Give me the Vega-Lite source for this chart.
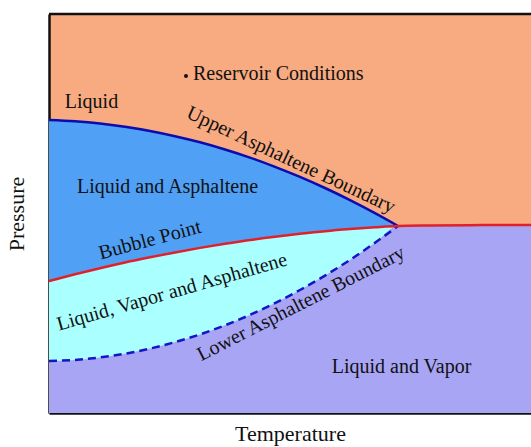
{
  "$schema": "https://vega.github.io/schema/vega-lite/v6.json",
  "autosize": {"type": "none"},
  "width": 482,
  "height": 399,
  "padding": {"left": 49, "top": 14, "right": 0, "bottom": 34},
  "background": "white",
  "config": {
    "view": {"stroke": null, "fill": "#F8AA80"},
    "font": "Liberation Serif"
  },
  "datasets": {
    "curves": [
      {"T": 0, "up": 73.43, "bub": 33.08, "low": 13.03},
      {"T": 5.39, "up": 73.11, "bub": 34.76, "low": 13.31},
      {"T": 10.58, "up": 72.56, "bub": 36.29, "low": 13.93},
      {"T": 15.77, "up": 71.73, "bub": 37.72, "low": 14.86},
      {"T": 20.95, "up": 70.68, "bub": 39.02, "low": 16.14},
      {"T": 26.14, "up": 69.37, "bub": 40.25, "low": 17.77},
      {"T": 31.33, "up": 67.84, "bub": 41.38, "low": 19.70},
      {"T": 36.51, "up": 66.04, "bub": 42.41, "low": 21.98},
      {"T": 41.70, "up": 64.01, "bub": 43.36, "low": 24.59},
      {"T": 46.89, "up": 61.70, "bub": 44.19, "low": 27.54},
      {"T": 52.07, "up": 59.17, "bub": 44.91, "low": 30.83},
      {"T": 57.26, "up": 56.39, "bub": 45.56, "low": 34.44},
      {"T": 62.45, "up": 53.36, "bub": 46.09, "low": 38.37},
      {"T": 67.63, "up": 50.10, "bub": 46.54, "low": 42.66},
      {"T": 72.41, "up": 46.87, "bub": 46.87, "low": 46.87},
      {"T": 79.05, "up": 46.99, "bub": 46.99, "low": 46.99},
      {"T": 87.34, "up": 47.07, "bub": 47.07, "low": 47.07},
      {"T": 93.57, "up": 47.12, "bub": 47.12, "low": 47.12},
      {"T": 100, "up": 47.12, "bub": 47.12, "low": 47.12}
    ],
    "flat": [
      {"T": 8.82, "P": 76.44, "label": "Liquid"},
      {"T": 24.59, "P": 55.14, "label": "Liquid and Asphaltene"},
      {"T": 73.13, "P": 10.03, "label": "Liquid and Vapor"}
    ],
    "reservoir": [
      {"T": 28.42, "P": 84.46, "Tl": 29.88, "Pl": 83.46, "label": "Reservoir Conditions"}
    ],
    "upperLab": [{"T": 50.21, "P": 63.41, "label": "Upper Asphaltene Boundary"}],
    "bubbleLab": [{"T": 20.95, "P": 43.36, "label": "Bubble Point"}],
    "lvaLab": [{"T": 25.5, "P": 30.3, "label": "Liquid, Vapor and Asphaltene"}],
    "lowerLab": [{"T": 52.3, "P": 27.4, "label": "Lower Asphaltene Boundary"}]
  },
  "encoding": {
    "x": {
      "field": "T", "type": "quantitative",
      "scale": {"domain": [0, 100], "nice": false},
      "axis": {
        "title": "Temperature", "ticks": false, "labels": false, "grid": false,
        "domain": true, "domainColor": "#111111", "domainWidth": 2.5,
        "titleFont": "Liberation Serif", "titleFontSize": 22, "titleFontWeight": "normal",
        "titleColor": "#111111", "titlePadding": 10
      }
    },
    "y": {
      "field": "P", "type": "quantitative",
      "scale": {"domain": [0, 100], "nice": false},
      "axis": {
        "title": "Pressure", "ticks": false, "labels": false, "grid": false,
        "domain": true, "domainColor": "#111111", "domainWidth": 2.5,
        "titleFont": "Liberation Serif", "titleFontSize": 22, "titleFontWeight": "normal",
        "titleColor": "#111111", "titlePadding": 21
      }
    }
  },
  "layer": [
    {
      "data": {"name": "curves"},
      "mark": {"type": "area", "color": "#50A0F5", "interpolate": "monotone"},
      "encoding": {"y": {"field": "up", "type": "quantitative"}}
    },
    {
      "data": {"name": "curves"},
      "transform": [{"filter": "datum.T <= 72.5"}],
      "mark": {"type": "area", "color": "#AAFFFF", "interpolate": "monotone"},
      "encoding": {"y": {"field": "bub", "type": "quantitative"}}
    },
    {
      "data": {"name": "curves"},
      "mark": {"type": "area", "color": "#A8A5F5", "interpolate": "monotone"},
      "encoding": {"y": {"field": "low", "type": "quantitative"}}
    },
    {
      "data": {"name": "curves"},
      "transform": [{"filter": "datum.T <= 72.5"}],
      "mark": {"type": "line", "color": "#0B0BB0", "strokeWidth": 2.5, "interpolate": "monotone"},
      "encoding": {"y": {"field": "up", "type": "quantitative"}}
    },
    {
      "data": {"name": "curves"},
      "transform": [{"filter": "datum.T <= 72.5"}],
      "mark": {"type": "line", "color": "#1515C8", "strokeWidth": 2.5, "strokeDash": [8, 5], "interpolate": "monotone"},
      "encoding": {"y": {"field": "low", "type": "quantitative"}}
    },
    {
      "data": {"name": "curves"},
      "mark": {"type": "line", "color": "#E0202A", "strokeWidth": 2.5, "interpolate": "monotone"},
      "encoding": {"y": {"field": "bub", "type": "quantitative"}}
    },
    {
      "data": {"name": "flat"},
      "mark": {"type": "text", "font": "Liberation Serif", "fontSize": 20, "color": "#111111", "align": "center", "baseline": "alphabetic"},
      "encoding": {"text": {"field": "label"}}
    },
    {
      "data": {"name": "reservoir"},
      "mark": {"type": "point", "filled": true, "size": 16, "color": "#111111", "opacity": 1},
      "encoding": {}
    },
    {
      "data": {"name": "reservoir"},
      "mark": {"type": "text", "font": "Liberation Serif", "fontSize": 20, "color": "#111111", "align": "left", "baseline": "alphabetic"},
      "encoding": {
        "x": {"field": "Tl", "type": "quantitative"},
        "y": {"field": "Pl", "type": "quantitative"},
        "text": {"field": "label"}
      }
    },
    {
      "data": {"name": "upperLab"},
      "mark": {"type": "text", "font": "Liberation Serif", "fontSize": 20, "color": "#111111", "align": "center", "baseline": "middle", "angle": 25},
      "encoding": {"text": {"field": "label"}}
    },
    {
      "data": {"name": "bubbleLab"},
      "mark": {"type": "text", "font": "Liberation Serif", "fontSize": 20, "color": "#111111", "align": "center", "baseline": "middle", "angle": -15},
      "encoding": {"text": {"field": "label"}}
    },
    {
      "data": {"name": "lvaLab"},
      "mark": {"type": "text", "font": "Liberation Serif", "fontSize": 20, "color": "#111111", "align": "center", "baseline": "middle", "angle": -16},
      "encoding": {"text": {"field": "label"}}
    },
    {
      "data": {"name": "lowerLab"},
      "mark": {"type": "text", "font": "Liberation Serif", "fontSize": 20, "color": "#111111", "align": "center", "baseline": "middle", "angle": -27},
      "encoding": {"text": {"field": "label"}}
    },
    {
      "data": {"values": [{"P": 100, "T0": 0, "T1": 100}]},
      "mark": {"type": "rule", "color": "#111111", "strokeWidth": 2.5},
      "encoding": {
        "x": {"field": "T0", "type": "quantitative"},
        "x2": {"field": "T1"},
        "y": {"field": "P", "type": "quantitative"}
      }
    }
  ]
}
